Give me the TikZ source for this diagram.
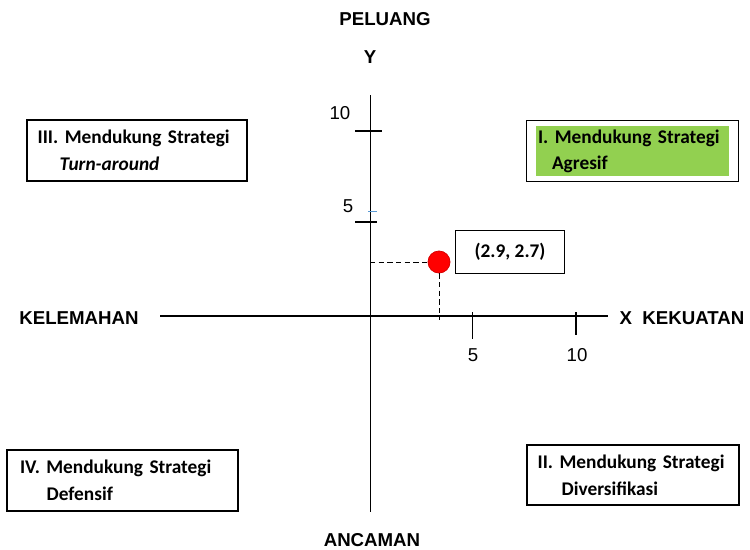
\documentclass[tikz,border=0pt]{standalone}
\usepackage{fontspec}
\setmainfont{Carlito}
\newfontfamily\axisfont{Liberation Sans}
\usepackage{tikz}
\usetikzlibrary{positioning,fit}
\definecolor{agreen}{RGB}{146,208,80}
\definecolor{tickblue}{RGB}{91,155,213}
\frenchspacing

\begin{document}
\begin{tikzpicture}[x=0.75pt,y=-0.75pt,
  axis label/.style={font=\axisfont\bfseries\fontsize{14}{16}\selectfont},
  tick label/.style={font=\axisfont\fontsize{14}{16}\selectfont},
  quad box/.style={draw,line width=0.9pt,align=left,inner xsep=8pt,inner ysep=2pt,
    minimum height=45.75pt,font=\bfseries\fontsize{14.5}{20}\selectfont},
  tick/.style={line width=0.8pt}]
  \useasboundingbox (0,0) rectangle (750,550);

  \coordinate (ytop) at (370,95);
  \coordinate (ybot) at (370,512);
  \coordinate (xleft) at (160,316);
  \coordinate (xright) at (608,316);
  \coordinate (o) at (370,316);
  \draw[line width=0.75pt] (ytop) -- (ybot);
  \draw[line width=1.5pt] (xleft) -- (xright);

  \node[axis label] (peluang) at (385,19) {PELUANG};
  \node[axis label] (ylab) at (370,57) {Y};
  \node[axis label] (kelemahan) at (79,318) {KELEMAHAN};
  \node[axis label] (kekuatan) at (682,318) {X\ \ KEKUATAN};
  \node[axis label,inner ysep=1pt] (ancaman) at (372,540) {ANCAMAN};

  \draw[tick] (355,131) -- (382,131);
  \draw[tick] (355,222) -- (377,222);
  \draw[tickblue,line width=0.6pt] (368,211) -- (377,211);
  \draw[tick] (472.5,312) -- (472.5,339);
  \draw[tick] (576,312) -- (576,335);
  \node[tick label] (y10) at (340,113) {10};
  \node[tick label] (y5) at (348,206) {5};
  \node[tick label] (x5) at (473,355) {5};
  \node[tick label] (x10) at (577,355) {10};

  \node[circle,fill=red,draw=red!85!black,line width=0.6pt,minimum size=16.5pt,inner sep=0pt] (pt) at (439,262) {};
  \coordinate (ptfoot) at (439,320);
  \draw[dashed,dash pattern=on 4pt off 2.5pt,line width=0.75pt] (o |- pt) -- (pt.west);
  \draw[dashed,dash pattern=on 4pt off 2.5pt,line width=0.75pt] (pt.south) -- (ptfoot);
  \node[draw,line width=0.9pt,minimum width=82pt,minimum height=32pt,
    font=\bfseries\fontsize{14.5}{16}\selectfont] (ptlabel) at (510,252) {(2.9, 2.7)};

  \node[quad box,text width=149pt] (q3) at (137,150.5)
    {III. Mendukung Strategi\\\hspace*{16.5pt}\textit{Turn-around}};
  \node[fill=agreen,align=left,inner xsep=1.5pt,inner ysep=0pt,text width=141.75pt,
    minimum height=37.5pt,font=\bfseries\fontsize{14.5}{19.5}\selectfont] (q1) at (632.5,151)
    {I. Mendukung Strategi\\\hspace*{10.5pt}Agresif};
  \node[draw,line width=0.9pt,fit=(q1),inner xsep=7.1pt,inner ysep=4.1pt] (q1box) {};
  \node[quad box,inner xsep=9.75pt,text width=153.75pt] (q4) at (122.5,480.5)
    {IV. Mendukung Strategi\\\hspace*{20pt}Defensif};
  \node[quad box,text width=143pt,minimum height=45pt] (q2) at (633,475)
    {II. Mendukung Strategi\\\hspace*{18pt}Diversifikasi};
\end{tikzpicture}
\end{document}
